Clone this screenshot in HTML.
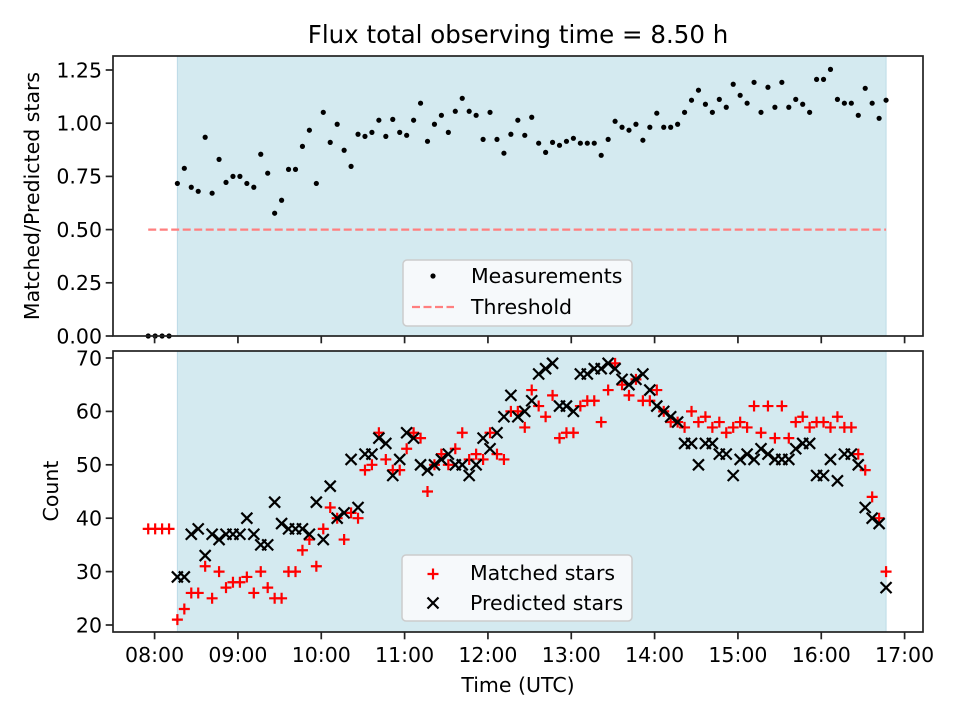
<!DOCTYPE html>
<html><head><meta charset="utf-8">
<style>
html,body{margin:0;padding:0;background:#fff;}
svg{display:block;font-family:"DejaVu Sans","Liberation Sans",sans-serif;}
</style></head>
<body>
<svg id="fig" width="960" height="720" viewBox="0 0 960 720" xmlns="http://www.w3.org/2000/svg"></svg>
<script>
// ---------- data ----------
const preTimesMin = [-4.6, 0.4, 5.4, 10.4];          // minutes after 08:00
const preRatio = [0, 0, 0, 0];
const preMatched = [38, 38, 38, 38];
const mainStartMin = 16.4;
const mainStepMin = 5.0025;
const ratio = [0.717,0.788,0.699,0.680,0.934,0.671,0.830,0.722,0.750,0.750,
0.717,0.699,0.854,0.765,0.577,0.638,0.783,0.783,0.891,0.967,
0.717,1.051,0.910,0.995,0.873,0.797,0.948,0.938,0.957,1.014,
0.938,1.018,0.957,0.943,1.014,1.094,0.915,0.995,1.037,0.957,
1.056,1.117,1.056,1.037,0.924,1.051,0.924,0.859,0.948,1.014,
0.943,
1.028,0.906,0.863,0.910,0.896,0.915,0.929,0.906,0.906,0.906,
0.849,0.924,1.009,0.981,0.967,0.995,0.920,0.981,1.047,0.981,
0.981,0.995,1.051,1.108,1.155,1.089,1.051,1.112,1.075,1.183,
1.131,1.094,1.192,1.051,1.169,1.075,1.192,1.075,1.112,1.089,
1.051,1.206,1.206,1.253,1.112,1.094,1.094,1.037,1.164,1.094,
1.023,1.108];
const matched = [21,23,26,26,31,25,30,27,28,28,
29,26,30,27,25,25,30,30,34,36,
31,38,42,40,36,41,40,49,50,56,
51,49,49,53,56,55,45,50,52,50,
53,56,51,52,51,56,52,51,60,60,
57,64,61,59,63,55,56,56,61,62,
62,58,64,69,65,63,66,62,62,64,
60,58,58,57,60,58,59,57,58,56,
57,58,57,61,56,61,55,61,55,58,
59,57,58,58,57,59,57,57,52,49,
44,40,30];
const predicted = [29,29,37,38,33,37,36,37,37,37,
40,37,35,35,43,39,38,38,38,37,
43,36,46,40,41,51,42,52,52,55,
54,48,51,56,55,50,49,50,51,52,
50,50,48,50,55,53,56,59,63,59,
60,62,67,68,69,61,61,60,67,67,
68,68,69,68,66,65,66,67,64,61,
60,59,58,54,54,50,54,54,52,52,
48,51,52,51,53,52,51,51,51,53,
54,54,48,48,51,47,52,52,50,42,
40,39,27];
const threshold = 0.5;
const xTickLabels = ["08:00","09:00","10:00","11:00","12:00","13:00","14:00","15:00","16:00","17:00"];
const topYTicks = [0,0.25,0.5,0.75,1.0,1.25];
const topYTickLabels = ["0.00","0.25","0.50","0.75","1.00","1.25"];
const botYTicks = [20,30,40,50,60,70];

// ---------- scales ----------
const NS = "http://www.w3.org/2000/svg";
const svg = document.getElementById('fig');
const AX = {l:113, r:923};
const TOP = {t:56, b:336};
const BOT = {t:351, b:632};
function xs(min){ return 154.6 + min*(750/540); }
function yTop(v){ return 336 - v*212.8; }
function yBot(v){ return 625 - (v-20)*5.34; }
const mainTimes = ratio.map((_, i) => mainStartMin + i*mainStepMin);

function el(tag, attrs, parent){
  const e = document.createElementNS(NS, tag);
  for (const k in attrs) e.setAttribute(k, attrs[k]);
  (parent||svg).appendChild(e);
  return e;
}
function txt(s, attrs, parent){ const t = el('text', attrs, parent); t.textContent = s; return t; }

// ---------- panels ----------
function panel(name, T, B){
  const g = el('g', {});
  
  
  // shaded observation span
  const span = el('rect', {x:xs(mainTimes[0]), y:T, width:xs(mainTimes[mainTimes.length-1])-xs(mainTimes[0]), height:B-T, fill:'#d4eaf0', stroke:'#bcdbe6', 'stroke-width':1}, g);
  
  
  return g;
}
const gTop = panel('top-panel', TOP.t, TOP.b);
const gBot = panel('bottom-panel', BOT.t, BOT.b);

// threshold
const thr = el('line', {x1:xs(preTimesMin[0]), x2:xs(mainTimes[mainTimes.length-1]), y1:yTop(threshold), y2:yTop(threshold), stroke:'#ff7f7f', 'stroke-width':2.2, 'stroke-dasharray':'8,3.5'}, gTop);



// top points
const allRatioT = preTimesMin.concat(mainTimes);
const allRatio = preRatio.concat(ratio);
allRatio.forEach((v,i)=>{
  const c = el('circle', {cx:xs(allRatioT[i]), cy:yTop(v), r:2.6, fill:'#000'}, gTop);
  
  
});

// bottom markers
function plus(x,y,g){
  const p = el('path', {d:`M${x-5.5},${y}H${x+5.5}M${x},${y-5.5}V${y+5.5}`, stroke:'#ff0000', 'stroke-width':2.2, fill:'none'}, g);
  return p;
}
function cross(x,y,g){
  const p = el('path', {d:`M${x-5.5},${y-5.5}L${x+5.5},${y+5.5}M${x-5.5},${y+5.5}L${x+5.5},${y-5.5}`, stroke:'#000', 'stroke-width':2.2, fill:'none'}, g);
  return p;
}
const allMatchedT = preTimesMin.concat(mainTimes);
const allMatched = preMatched.concat(matched);
allMatched.forEach((v,i)=>{
  const p = plus(xs(allMatchedT[i]), yBot(v), gBot);
  
  
});
predicted.forEach((v,i)=>{
  const p = cross(xs(mainTimes[i]), yBot(v), gBot);
  
  
});

// ---------- axes ----------
function axes(T, B, yTicks, yLabels, yfn, showXLabels, prefix){
  const frame = el('rect', {x:AX.l, y:T, width:AX.r-AX.l, height:B-T, fill:'none', stroke:'#222', 'stroke-width':1.7});
  
  
  xTickLabels.forEach((lab,i)=>{
    const x = xs(i*60);
    const tk = el('line', {x1:x, x2:x, y1:B, y2:B+7.3, stroke:'#222', 'stroke-width':1.7});
    
    
    if (showXLabels){
      const t = txt(lab, {x:x, y:B+30, 'font-size':20.5, 'text-anchor':'middle', fill:'#000'});
      
      
    }
  });
  yTicks.forEach((v,i)=>{
    const y = yfn(v);
    const tk = el('line', {x1:AX.l-7.3, x2:AX.l, y1:y, y2:y, stroke:'#222', 'stroke-width':1.7});
    
    
    const t = txt(yLabels[i], {x:AX.l-11, y:y+7.3, 'font-size':20.5, 'text-anchor':'end', fill:'#000'});
    
    
  });
}
axes(TOP.t, TOP.b, topYTicks, topYTickLabels, yTop, false, 'top');
axes(BOT.t, BOT.b, botYTicks, botYTicks.map(String), yBot, true, 'bottom');

// titles
const title = txt('Flux total observing time = 8.50 h', {x:518, y:43, 'font-size':24.5, 'text-anchor':'middle', fill:'#000'});


const xl = txt('Time (UTC)', {x:518, y:692, 'font-size':20.5, 'text-anchor':'middle', fill:'#000'});


const yl1 = txt('Matched/Predicted stars', {x:0, y:0, 'font-size':20.5, 'text-anchor':'middle', fill:'#000', transform:'translate(39,196) rotate(-90)'});


const yl2 = txt('Count', {x:0, y:0, 'font-size':20.5, 'text-anchor':'middle', fill:'#000', transform:'translate(58,491) rotate(-90)'});



// ---------- legends ----------
const lg1 = el('g', {});


el('rect', {x:403, y:260, width:229, height:66, rx:4, fill:'#f6f9fb', stroke:'#cccccc', 'stroke-width':1.5}, lg1);
const le1 = el('circle', {cx:433, cy:276, r:2.6, fill:'#000'}, lg1);


txt('Measurements', {x:471, y:283, 'font-size':20.5, fill:'#000'}, lg1);
const le2 = el('line', {x1:412, x2:454, y1:307, y2:307, stroke:'#ff7f7f', 'stroke-width':2.2, 'stroke-dasharray':'8,3.5'}, lg1);


txt('Threshold', {x:471, y:314, 'font-size':20.5, fill:'#000'}, lg1);

const lg2 = el('g', {});


el('rect', {x:402, y:555, width:230, height:66, rx:4, fill:'#f6f9fb', stroke:'#cccccc', 'stroke-width':1.5}, lg2);
const lp = plus(433, 574, lg2);


txt('Matched stars', {x:470, y:580, 'font-size':20.5, fill:'#000'}, lg2);
const lx = cross(433, 603, lg2);


txt('Predicted stars', {x:470, y:610, 'font-size':20.5, fill:'#000'}, lg2);
</script>
</body></html>
